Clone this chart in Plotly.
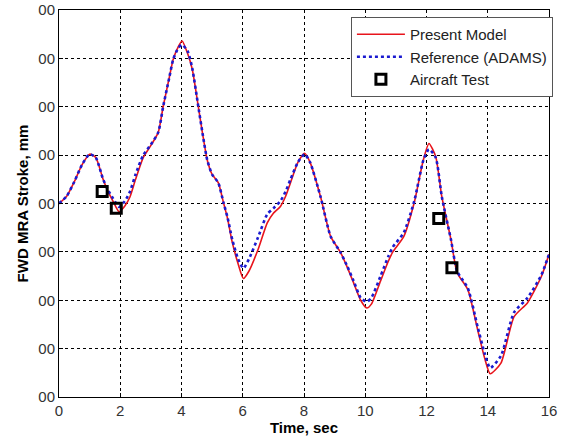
import plotly.graph_objects as go

# ---- data ----
t_model = [0, 0.25, 0.5, 0.75, 1.0, 1.2, 1.44, 1.6, 1.77, 1.96, 2.15, 2.32, 2.5, 2.75, 3.0,
           3.24, 3.4, 3.6, 3.73, 3.9, 4.02, 4.2, 4.35, 4.55, 4.7, 4.84, 5.0, 5.2, 5.37, 5.5,
           5.66, 5.85, 6.02, 6.2, 6.5, 6.8, 7.0, 7.23, 7.4, 7.56, 7.8, 8.02, 8.2, 8.54, 8.87,
           9.2, 9.4, 9.62, 9.85, 10.05, 10.2, 10.5, 10.75, 10.9, 11.26, 11.6, 11.9, 12.08, 12.3,
           12.5, 12.8, 13.0, 13.35, 13.67, 13.9, 14.08, 14.43, 14.86, 15.3, 15.75, 16.0]
present_model = [4.0, 4.15, 4.45, 4.8, 5.02, 4.95, 4.5, 4.25, 4.04, 3.83, 3.95, 4.14, 4.5, 4.95, 5.2,
                 5.47, 6.0, 6.6, 6.98, 7.25, 7.36, 7.1, 6.78, 6.0, 5.4, 4.9, 4.6, 4.43, 4.02, 3.7,
                 3.19, 2.75, 2.45, 2.6, 3.05, 3.6, 3.8, 3.94, 4.15, 4.43, 4.85, 5.04, 4.85, 4.14, 3.32,
                 2.98, 2.7, 2.36, 2.0, 1.84, 1.92, 2.4, 2.8, 3.0, 3.32, 4.02, 4.91, 5.24, 4.97,
                 4.14, 3.25, 2.57, 2.22, 1.39, 0.8, 0.48, 0.7, 1.66, 1.95, 2.49, 2.95]
reference_adams = [4.0, 4.15, 4.45, 4.8, 5.02, 4.95, 4.5, 4.28, 4.1, 3.93, 4.05, 4.25, 4.6, 5.0, 5.22,
                   5.47, 6.0, 6.6, 6.98, 7.22, 7.28, 7.15, 6.8, 6.0, 5.4, 4.9, 4.6, 4.43, 4.02, 3.72,
                   3.25, 2.85, 2.66, 2.85, 3.3, 3.78, 3.9, 4.05, 4.25, 4.5, 4.85, 5.02, 4.85, 4.14, 3.32,
                   2.98, 2.72, 2.4, 2.05, 1.97, 2.05, 2.5, 2.9, 3.1, 3.4, 4.05, 4.9, 5.12, 4.95,
                   4.14, 3.25, 2.6, 2.25, 1.45, 0.9, 0.6, 0.85, 1.75, 2.05, 2.52, 2.95]
t_test = [1.41, 1.87, 12.4, 12.83]
aircraft_test = [4.25, 3.9, 3.69, 2.67]

x_ticks = [0, 2, 4, 6, 8, 10, 12, 14, 16]
y_ticks = [0, 1, 2, 3, 4, 5, 6, 7, 8]
y_tick_labels = ["00"] * 9

fig = go.Figure()
fig.add_trace(go.Scatter(x=t_model, y=present_model, mode="lines", name="Present Model",
                         line=dict(color="#e8141c", width=1.6, shape="spline", smoothing=0.6)))
fig.add_trace(go.Scatter(x=t_model, y=reference_adams, mode="lines", name="Reference (ADAMS)",
                         line=dict(color="#1a1ad0", width=2.6, dash="dot", shape="spline", smoothing=0.6)))
fig.add_trace(go.Scatter(x=t_test, y=aircraft_test, mode="markers", name="Aircraft Test",
                         marker=dict(symbol="square-open", size=10, color="black",
                                     line=dict(width=3, color="black"))))

axis_common = dict(showline=True, mirror=True, linecolor="black", linewidth=1,
                   showgrid=True, gridcolor="black", gridwidth=1, griddash="3px,3px",
                   zeroline=False, ticks="inside", ticklen=4, tickcolor="black",
                   automargin=False,
                   tickfont=dict(family="Liberation Sans, Arial", size=15, color="#333333"))

fig.update_xaxes(range=[0, 16], tickvals=x_ticks,
                 title=dict(text="<b>Time, sec</b>", font=dict(family="Liberation Sans, Arial", size=15, color="black"),
                            standoff=4),
                 **axis_common)
fig.update_yaxes(range=[0, 8], tickvals=y_ticks, ticktext=y_tick_labels,
                 title=dict(text="<b>FWD MRA Stroke, mm</b>", font=dict(family="Liberation Sans, Arial", size=15, color="black"),
                            standoff=6),
                 **axis_common)

fig.update_layout(
    width=567, height=444,
    margin=dict(l=59, r=18, t=10, b=47, autoexpand=False),
    plot_bgcolor="white", paper_bgcolor="white",
    showlegend=True,
    legend=dict(x=1.008, y=0.982, xanchor="right", yanchor="top",
                bgcolor="white", bordercolor="#555555", borderwidth=1,
                font=dict(family="Liberation Sans, Arial", size=15, color="#222222"),
                tracegroupgap=0, itemwidth=48),
)

fig.write_html("out.html", config={"displayModeBar": False},
               post_script="document.body.style.margin='0';document.body.style.overflow='hidden';")
